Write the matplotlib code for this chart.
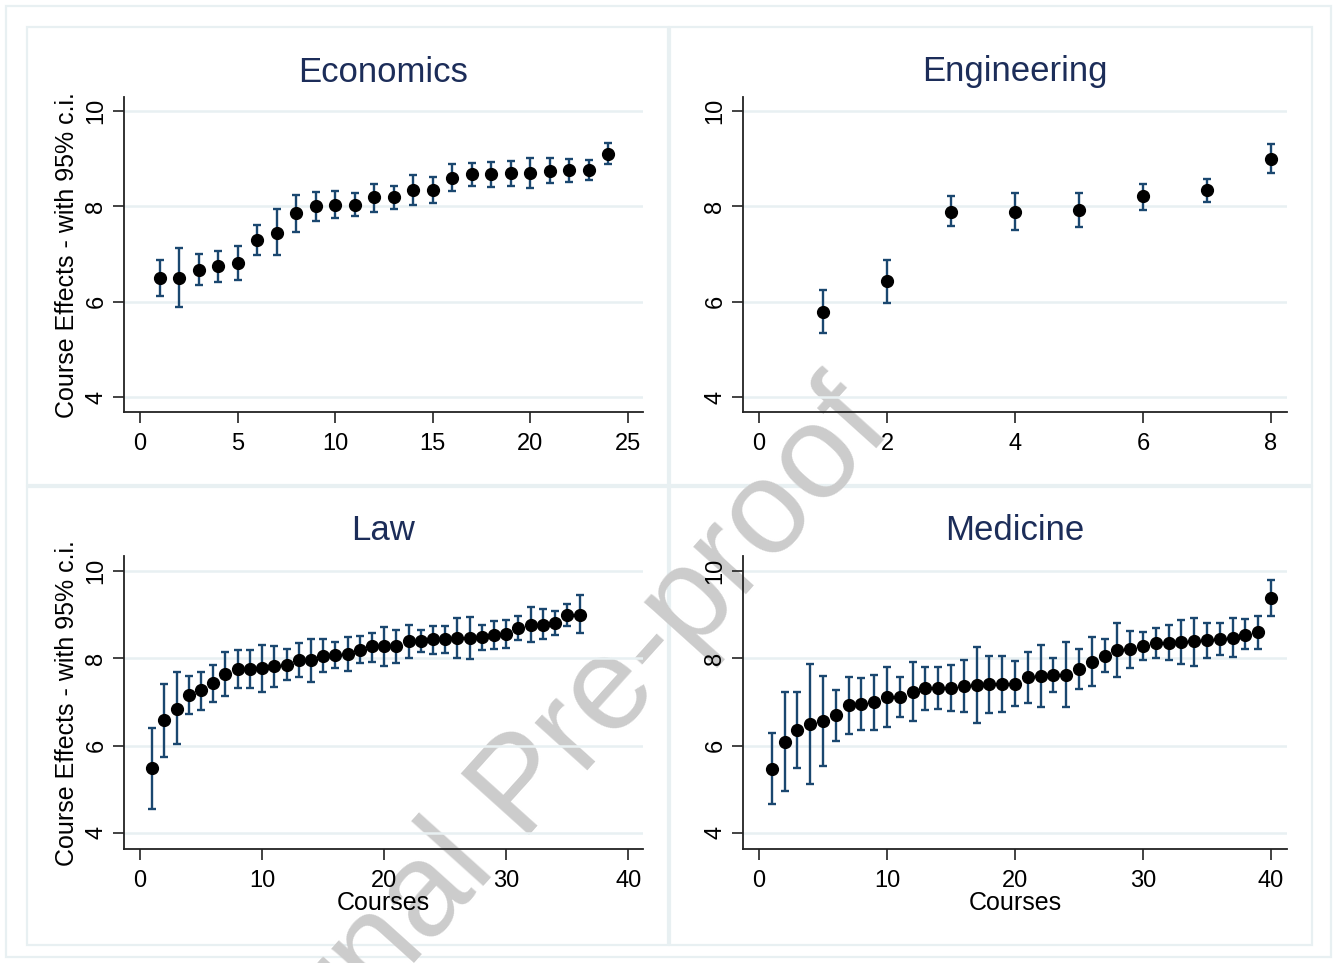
import numpy as np
import matplotlib
matplotlib.use("Agg")
import matplotlib.pyplot as plt
from matplotlib.patches import Rectangle

plt.rcParams['font.family'] = ['Liberation Sans', 'DejaVu Sans']

# ---------------- data ----------------
econ_est = [6.49, 6.49, 6.66, 6.74, 6.81, 7.29, 7.45, 7.86, 8.00, 8.03, 8.03, 8.19,
            8.19, 8.34, 8.35, 8.60, 8.67, 8.67, 8.70, 8.70, 8.75, 8.76, 8.76, 9.10]
econ_hi = [6.87, 7.12, 6.99, 7.07, 7.17, 7.60, 7.95, 8.24, 8.30, 8.33, 8.27, 8.47,
           8.42, 8.65, 8.62, 8.89, 8.90, 8.94, 8.96, 9.02, 9.02, 9.00, 8.97, 9.32]
econ_lo = [6.11, 5.88, 6.36, 6.41, 6.45, 6.97, 6.97, 7.47, 7.69, 7.75, 7.80, 7.89,
           7.95, 8.03, 8.06, 8.32, 8.42, 8.41, 8.42, 8.39, 8.49, 8.52, 8.56, 8.88]

eng_est = [5.79, 6.43, 7.89, 7.89, 7.93, 8.21, 8.34, 9.00]
eng_hi = [6.25, 6.88, 8.21, 8.29, 8.28, 8.47, 8.58, 9.31]
eng_lo = [5.34, 5.97, 7.58, 7.50, 7.57, 7.93, 8.10, 8.70]

law_est = [5.48, 6.58, 6.84, 7.16, 7.26, 7.43, 7.64, 7.75, 7.75, 7.77, 7.82, 7.85,
           7.96, 7.96, 8.06, 8.08, 8.09, 8.19, 8.27, 8.28, 8.28, 8.39, 8.39, 8.43,
           8.43, 8.46, 8.47, 8.49, 8.52, 8.56, 8.69, 8.77, 8.77, 8.80, 8.99, 9.00]
law_hi = [6.41, 7.42, 7.68, 7.60, 7.69, 7.85, 8.15, 8.18, 8.18, 8.30, 8.29, 8.21,
          8.34, 8.45, 8.43, 8.38, 8.48, 8.50, 8.57, 8.72, 8.65, 8.75, 8.64, 8.74,
          8.74, 8.93, 8.95, 8.77, 8.84, 8.88, 8.96, 9.18, 9.12, 9.07, 9.23, 9.44]
law_lo = [4.54, 5.74, 6.03, 6.73, 6.82, 7.00, 7.13, 7.31, 7.31, 7.23, 7.35, 7.49,
          7.58, 7.46, 7.69, 7.77, 7.71, 7.88, 7.92, 7.82, 7.89, 8.00, 8.14, 8.10,
          8.13, 8.00, 7.98, 8.19, 8.20, 8.24, 8.42, 8.37, 8.44, 8.52, 8.74, 8.57]

med_est = [5.47, 6.08, 6.36, 6.50, 6.56, 6.69, 6.92, 6.95, 7.00, 7.11, 7.12, 7.23,
           7.31, 7.31, 7.32, 7.36, 7.39, 7.40, 7.41, 7.42, 7.56, 7.59, 7.61, 7.62,
           7.75, 7.92, 8.05, 8.18, 8.20, 8.28, 8.34, 8.34, 8.38, 8.39, 8.41, 8.45,
           8.47, 8.54, 8.60, 9.38]
med_hi = [6.28, 7.23, 7.23, 7.86, 7.59, 7.26, 7.57, 7.54, 7.62, 7.79, 7.57, 7.91,
          7.79, 7.79, 7.84, 7.95, 8.26, 8.05, 8.05, 7.93, 8.14, 8.30, 8.00, 8.36,
          8.21, 8.48, 8.43, 8.80, 8.62, 8.61, 8.68, 8.75, 8.88, 8.93, 8.80, 8.81,
          8.91, 8.89, 8.96, 9.80]
med_lo = [4.66, 4.95, 5.49, 5.13, 5.53, 6.10, 6.27, 6.36, 6.36, 6.42, 6.65, 6.56,
          6.81, 6.83, 6.79, 6.76, 6.51, 6.74, 6.77, 6.90, 6.97, 6.88, 7.22, 6.88,
          7.30, 7.36, 7.69, 7.57, 7.77, 7.95, 8.01, 7.95, 7.86, 7.82, 8.01, 8.08,
          8.03, 8.20, 8.22, 8.97]

titles = ["Economics", "Engineering", "Law", "Medicine"]
xticks_list = [[0, 5, 10, 15, 20, 25], [0, 2, 4, 6, 8],
               [0, 10, 20, 30, 40], [0, 10, 20, 30, 40]]
yticks = [4, 6, 8, 10]
ylabel = "Course Effects - with 95% c.i."
xlabel = "Courses"

# ---------------- layout ----------------
W, H = 1335, 963
fig = plt.figure(figsize=(W / 100, H / 100), dpi=100)
fig.patch.set_facecolor('white')

def frac(l, t, r, b):
    return [l / W, 1 - b / H, (r - l) / W, (b - t) / H]

LIGHT = '#e8f0f2'
NAVY = '#1a476f'
TITLE_C = '#1c2d59'

# outer frame and panel frames
fig.add_artist(Rectangle((6 / W, 1 - 957 / H), 1325 / W, 951 / H, transform=fig.transFigure,
                         fill=False, edgecolor=LIGHT, lw=1.6, zorder=-5))
for (l, t, r, b) in [(27, 27, 668, 485), (670, 27, 1312, 485),
                     (27, 487, 668, 945), (670, 487, 1312, 945)]:
    fig.add_artist(Rectangle((l / W, 1 - b / H), (r - l) / W, (b - t) / H,
                             transform=fig.transFigure, fill=False,
                             edgecolor=LIGHT, lw=1.6, zorder=-5))

# watermark
fig.text(550 / W, 1 - 812 / H, "Journal Pre-proof", fontsize=96, color='#cccccc',
         rotation=48, rotation_mode='anchor', ha='center', va='baseline', zorder=-3)

axes_px = [(124, 97, 643, 412), (743, 97, 1287, 412),
           (124, 556, 643, 849), (743, 556, 1287, 849)]
xlims = [(-0.82, 25.77), (-0.25, 8.25), (-1.31, 41.2), (-1.25, 41.25)]
ylims = [(3.685, 10.294), (3.685, 10.294), (3.63, 10.34), (3.63, 10.34)]
series = [(econ_est, econ_lo, econ_hi), (eng_est, eng_lo, eng_hi),
          (law_est, law_lo, law_hi), (med_est, med_lo, med_hi)]

for i, ((l, t, r, b), (est, lo, hi)) in enumerate(zip(axes_px, series)):
    ax = fig.add_axes(frac(l, t, r, b))
    ax.set_facecolor('none')
    est = np.array(est); lo = np.array(lo); hi = np.array(hi)
    x = np.arange(1, len(est) + 1)
    ax.errorbar(x, est, yerr=[est - lo, hi - est], fmt='none', ecolor=NAVY,
                elinewidth=1.7, capsize=3.2, capthick=1.7, zorder=3)
    ax.plot(x, est, 'o', color='black', markersize=8.5, zorder=4)
    ax.set_xlim(*xlims[i])
    ax.set_ylim(*ylims[i])
    ax.set_xticks(xticks_list[i])
    ax.set_yticks(yticks)
    for yv in yticks:
        ax.axhline(yv, color=LIGHT, lw=1.8, zorder=1)
    for s in ['top', 'right']:
        ax.spines[s].set_visible(False)
    for s in ['left', 'bottom']:
        ax.spines[s].set_color('#222222')
        ax.spines[s].set_linewidth(1.3)
    ax.tick_params(axis='both', direction='out', length=8, width=1.2,
                   color='#222222', labelsize=17, labelcolor='black')
    ax.tick_params(axis='x', pad=7)
    ax.tick_params(axis='y', pad=4)
    for lab in ax.get_yticklabels():
        lab.set_rotation(90)
        lab.set_va('center')
    cx = (l + r) / 2
    ty = t - 25
    fig.text(cx / W, 1 - ty / H, titles[i], fontsize=25, color=TITLE_C,
             ha='center', va='center')
    if i in (0, 2):
        fig.text(67 / W, 1 - ((t + b) / 2 + 1) / H, ylabel, fontsize=18,
                 rotation=90, ha='center', va='center', color='black')
    if i in (2, 3):
        fig.text(cx / W, 1 - 903 / H, xlabel, fontsize=18, ha='center',
                 va='center', color='black')

fig.savefig("out.png", dpi=100, facecolor='white')
